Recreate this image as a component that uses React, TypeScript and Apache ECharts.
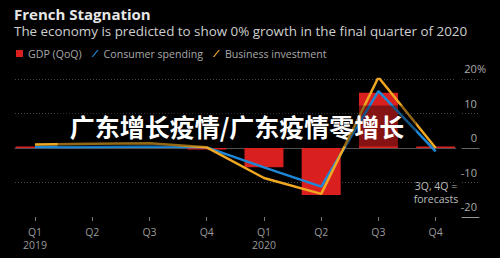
import React, { useEffect, useRef } from "react";
import * as echarts from "echarts";

const quarters = ["Q1", "Q2", "Q3", "Q4", "Q1", "Q2", "Q3", "Q4"];
const years = ["2019", "", "", "", "2020", "", "", ""];
const categories = quarters.map((q, i) => `${q}-${i}`);

const gdp = [0.4, 0.3, 0.2, -0.1, -5.6, -13.6, 16.0, 0];
const consumerSpending = [0.3, 0.3, 0.4, 0.2, -5.6, -11.2, 16.5, -1.0];
const businessInvestment = [1.0, 1.2, 1.4, 0.2, -8.7, -13.3, 20.5, 0];

const yTicks = { min: -20, max: 20, interval: 10 };

const TITLE = "French Stagnation";
const SUBTITLE = "The economy is predicted to show 0% growth in the final quarter of 2020";
const NOTE = "3Q, 4Q =\nforecasts";
const WATERMARK = "广东增长疫情/广东疫情零增长";

const FONT = "'Open Sans', 'Noto Sans', sans-serif";
const RED = "#d9201f";
const BLUE = "#1e88d8";
const ORANGE = "#f0a823";

export default function App() {
  const ref = useRef<HTMLDivElement>(null);
  useEffect(() => {
    if (!ref.current) return;
    const chart = echarts.init(ref.current, undefined, { renderer: "svg" });
    const dotted = { color: "#4a4a4a", type: [1, 2] as any, width: 1 };
    chart.setOption({
      animation: false,
      backgroundColor: "#000",
      textStyle: { fontFamily: FONT },
      title: {
        text: TITLE,
        subtext: SUBTITLE,
        left: 14,
        top: 6,
        padding: 0,
        itemGap: 3,
        textStyle: { color: "#e6e6e6", fontSize: 15, fontWeight: "bold", fontFamily: FONT },
        subtextStyle: { color: "#cfcfcf", fontSize: 13.4, fontFamily: FONT },
      },
      legend: {
        left: 16,
        top: 48,
        padding: 0,
        itemGap: 10,
        itemWidth: 7,
        itemHeight: 7,
        textStyle: { color: "#a8a8a8", fontSize: 10.6, fontFamily: FONT },
        data: [
          { name: "GDP (QoQ)", icon: "rect" },
          { name: "Consumer spending", icon: "path://M8,0 L10,0 L2,10 L0,10 Z" },
          { name: "Business investment", icon: "path://M8,0 L10,0 L2,10 L0,10 Z" },
        ],
      },
      grid: [
        { left: 15, right: 44.3, top: 79, height: 138 },
        { left: 462, right: 21, top: 79, height: 138 },
        { left: 6.4, right: 35.7, top: 79, height: 138 },
      ],
      xAxis: [
        {
          gridIndex: 0, type: "value", min: 0, max: 1,
          axisLine: { show: true, onZero: true, lineStyle: { color: "#505050", width: 1 } },
          axisTick: { show: false }, axisLabel: { show: false }, splitLine: { show: false },
        },
        {
          gridIndex: 1, type: "value", min: 0, max: 1, position: "top",
          axisLine: { show: true, onZero: true, lineStyle: { color: "#666", width: 1 } },
          axisTick: { show: false }, axisLabel: { show: false }, splitLine: { show: false },
        },
        {
          gridIndex: 1, type: "value", min: 0, max: 1, position: "bottom",
          axisLine: { show: true, onZero: false, lineStyle: { color: "#9a9a9a", width: 1 } },
          axisTick: { show: false }, axisLabel: { show: false }, splitLine: { show: false },
        },
        {
          gridIndex: 2, type: "category", data: categories, boundaryGap: true, position: "bottom",
          axisLine: { show: false, onZero: false },
          axisTick: { show: true, alignWithLabel: true, length: 4, lineStyle: { color: "#777" } },
          axisLabel: {
            color: "#9a9a9a", fontSize: 10.5, lineHeight: 13.5, margin: 8, fontFamily: FONT,
            formatter: (_v: string, i: number) => quarters[i] + (years[i] ? "\n" + years[i] : ""),
          },
          splitLine: { show: false },
        },
      ],
      yAxis: [
        {
          gridIndex: 0, type: "value", ...yTicks,
          axisLine: { show: false }, axisTick: { show: false }, axisLabel: { show: false },
          splitLine: { show: true, showMinLine: false, lineStyle: dotted },
        },
        {
          gridIndex: 1, type: "value", position: "right", ...yTicks,
          axisLine: { show: false }, axisTick: { show: false },
          axisLabel: {
            inside: true, margin: -7, color: "#ababab", fontSize: 11, fontFamily: FONT,
            verticalAlign: "bottom", lineHeight: 13, padding: [0, 0, 4, 0],
            formatter: (v: number) => (v === yTicks.max ? `${v}%` : `${v}{h|%}`),
            rich: { h: { color: "rgba(0,0,0,0)", fontSize: 11, fontFamily: FONT, lineHeight: 13 } },
          },
          splitLine: { show: true, showMinLine: false, lineStyle: dotted },
        },
        {
          gridIndex: 2, type: "value", ...yTicks, show: false,
          splitLine: { show: false },
        },
      ],
      series: [
        {
          name: "GDP (QoQ)", type: "bar", xAxisIndex: 3, yAxisIndex: 2,
          data: gdp, barWidth: 39, barMinHeight: 1.5, itemStyle: { color: RED },
        },
        {
          name: "Consumer spending", type: "line", xAxisIndex: 3, yAxisIndex: 2,
          data: consumerSpending, symbol: "none", lineStyle: { color: BLUE, width: 2.5 },
          itemStyle: { color: BLUE },
        },
        {
          name: "Business investment", type: "line", xAxisIndex: 3, yAxisIndex: 2,
          data: businessInvestment, symbol: "none", lineStyle: { color: ORANGE, width: 2.5 },
          itemStyle: { color: ORANGE },
        },
      ],
      graphic: [
        {
          type: "text", z: 100, x: 436, y: 180,
          style: {
            text: NOTE, fill: "#bdbdbd", font: `10.5px ${FONT}`, align: "center", lineHeight: 12.5,
          },
        },
        {
          type: "text", z: 110, x: 237, y: 126,
          style: {
            text: WATERMARK, fill: "#ffffff",
            font: `bold 25px 'Noto Sans CJK SC', sans-serif`,
            align: "center", verticalAlign: "middle", lineHeight: 25,
            backgroundColor: "rgba(0,0,0,0.38)", padding: [8, 12, 8, 12],
          },
        },
      ],
    });
    return () => chart.dispose();
  }, []);
  return (
    <div
      ref={ref}
      style={{ position: "fixed", left: 0, top: 0, width: 500, height: 258 }}
    />
  );
}
